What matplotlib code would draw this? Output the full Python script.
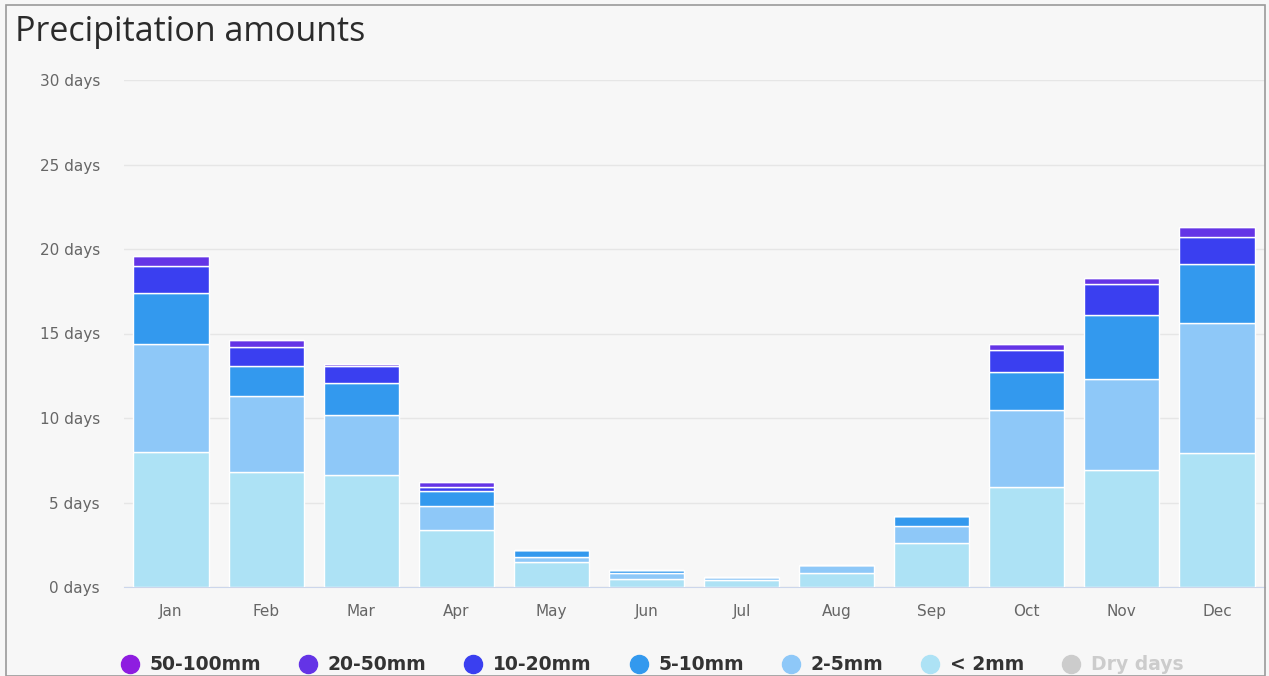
import matplotlib
matplotlib.use("Agg")
import matplotlib.pyplot as plt
from matplotlib.lines import Line2D
from matplotlib.patches import Rectangle
import numpy as np

months = ["Jan", "Feb", "Mar", "Apr", "May", "Jun",
          "Jul", "Aug", "Sep", "Oct", "Nov", "Dec"]

# days per month in each precipitation class (stacked bottom -> top)
lt2 = [8.0, 6.8, 6.6, 3.4, 1.5, 0.5, 0.4, 0.8, 2.6, 5.9, 6.9, 7.9]
mm2_5 = [6.4, 4.5, 3.6, 1.4, 0.3, 0.3, 0.2, 0.5, 1.0, 4.6, 5.4, 7.7]
mm5_10 = [3.0, 1.8, 1.9, 0.9, 0.4, 0.2, 0.0, 0.0, 0.6, 2.2, 3.8, 3.5]
mm10_20 = [1.6, 1.1, 1.0, 0.2, 0.0, 0.0, 0.0, 0.0, 0.0, 1.3, 1.8, 1.6]
mm20_50 = [0.6, 0.4, 0.1, 0.3, 0.0, 0.0, 0.0, 0.0, 0.0, 0.4, 0.4, 0.6]
mm50_100 = [0.0] * 12

series = [
    ("< 2mm", lt2, "#ade2f5"),
    ("2-5mm", mm2_5, "#8ec8f8"),
    ("5-10mm", mm5_10, "#3399ee"),
    ("10-20mm", mm10_20, "#3a3ff0"),
    ("20-50mm", mm20_50, "#6434e6"),
    ("50-100mm", mm50_100, "#8e1de0"),
]

W, H = 1269, 676
fig = plt.figure(figsize=(W / 100, H / 100), dpi=100)
fig.patch.set_facecolor("#f7f7f7")

# outer frame of the screenshot
fig.patches.append(Rectangle((6 / W, 0), (W - 10) / W, (H - 5) / H,
                             transform=fig.transFigure, fill=False,
                             edgecolor="#9a9a9a", lw=1.2))

ax = fig.add_axes([123.5 / W, 89 / H, 1141 / W, 507 / H])
ax.set_facecolor("#f7f7f7")

x = np.arange(len(months))
bottom = np.zeros(len(months))
for name, vals, col in series:
    vals = np.array(vals)
    ax.bar(x, vals, width=0.79, bottom=bottom, color=col,
           edgecolor="white", linewidth=1, zorder=3)
    bottom += vals

ax.set_xlim(-0.5, len(months) - 0.5)
ax.set_ylim(0, 30)
ax.set_yticks(range(0, 31, 5))
ax.set_yticklabels([f"{v} days" for v in range(0, 31, 5)])
ax.set_xticks(x)
ax.set_xticklabels(months)

ax.grid(axis="y", color="#e6e6e6", lw=1, zorder=0)
ax.tick_params(axis="both", length=0, colors="#666666", labelsize=11)
ax.tick_params(axis="y", pad=17)
ax.tick_params(axis="x", pad=12)
for s in ["top", "right", "left"]:
    ax.spines[s].set_visible(False)
ax.spines["bottom"].set_color("#ccd6eb")

fig.text(15 / W, 1 - 32 / H, "Precipitation amounts", fontsize=24.5,
         family="Open Sans", color="#2b2b2b", va="center", ha="left")

handles = []
labels = []
for name, vals, col in reversed(series):
    handles.append(Line2D([], [], marker="o", ls="", markersize=13,
                          markerfacecolor=col, markeredgecolor=col))
    labels.append(name)
handles.append(Line2D([], [], marker="o", ls="", markersize=13,
                      markerfacecolor="#cccccc", markeredgecolor="#cccccc"))
labels.append("Dry days")

leg = fig.legend(handles, labels, ncol=7, loc="center",
                 bbox_to_anchor=(0.513, 1 - 665 / H), frameon=False,
                 prop={"weight": "bold", "size": 13.5},
                 handletextpad=0.45, columnspacing=1.9, handlelength=1.2)
for t in leg.get_texts():
    t.set_color("#333333")
leg.get_texts()[-1].set_color("#cccccc")

fig.savefig("out.png", dpi=100, facecolor=fig.get_facecolor())
